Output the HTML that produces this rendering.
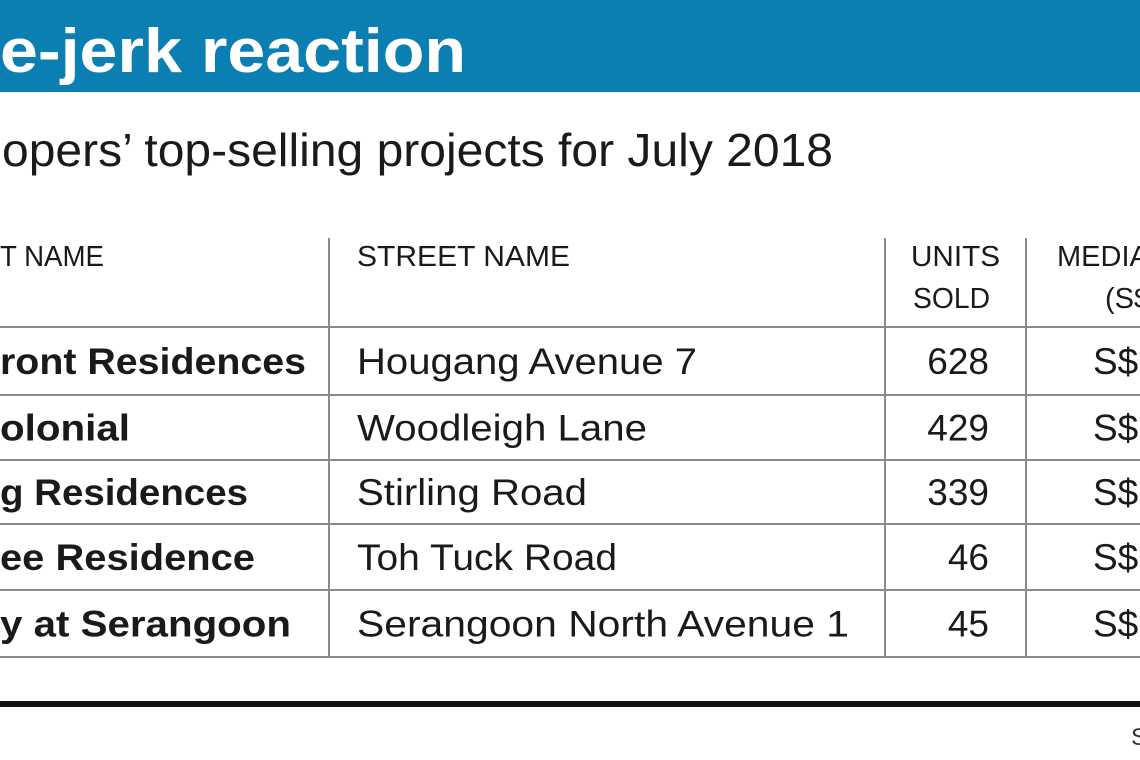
<!DOCTYPE html>
<html><head><meta charset="utf-8"><style>
html,body{margin:0;padding:0;background:#fff;}
svg{display:block;font-family:"Liberation Sans",sans-serif;}
</style></head><body>
<svg width="1140" height="760" viewBox="0 0 1140 760">
<rect x="0" y="0" width="1140" height="92" fill="#0b7fb2"/>
<text x="0" y="72" font-size="62" font-weight="bold" fill="#fff" textLength="466" lengthAdjust="spacingAndGlyphs">e-jerk reaction</text>
<text x="2" y="166" font-size="46" fill="#1a1a1a" textLength="831" lengthAdjust="spacingAndGlyphs">opers’ top-selling projects for July 2018</text>
<g id="grid" stroke="#8a8a8a" stroke-width="2"></g>
<g id="cells" fill="#1a1a1a">
<text x="0" y="266" font-size="29" textLength="104" lengthAdjust="spacingAndGlyphs">T NAME</text>
<text x="357" y="266" font-size="29" textLength="213" lengthAdjust="spacingAndGlyphs">STREET NAME</text>
<text x="911" y="266" font-size="29" textLength="89" lengthAdjust="spacingAndGlyphs">UNITS</text>
<text x="913" y="308" font-size="29" textLength="77" lengthAdjust="spacingAndGlyphs">SOLD</text>
<text x="1057" y="266" font-size="29">MEDIAN</text>
<text x="1105" y="308" font-size="29">(S$</text>
</g>
<rect x="0" y="701" width="1140" height="6" fill="#111"/>
<text x="1131" y="745" font-size="24" fill="#333">S</text>
</svg>
<script>
const projects=["ront Residences","olonial","g Residences","ee Residence","y at Serangoon"];
const projectWidths=[306,130,248,255,291];
const streets=["Hougang Avenue 7","Woodleigh Lane","Stirling Road","Toh Tuck Road","Serangoon North Avenue 1"];
const streetWidths=[340,290,230,260,492];
const units=[628,429,339,46,45];
const NS="http://www.w3.org/2000/svg";
const grid=document.getElementById('grid');
const cells=document.getElementById('cells');
function line(x1,y1,x2,y2,name){
  const l=document.createElementNS(NS,'line');
  l.setAttribute('x1',x1);l.setAttribute('y1',y1);l.setAttribute('x2',x2);l.setAttribute('y2',y2);
  
  
  grid.appendChild(l);
}
const rowTops=[327,395,460,524,590,657];
rowTops.forEach((y,i)=>line(0,y,1140,y,'row-rule'));
[329,885,1026].forEach(x=>line(x,238,x,657,'column-rule'));
function txt(x,y,s,opts){
  const t=document.createElementNS(NS,'text');
  t.setAttribute('x',x);t.setAttribute('y',y);
  t.setAttribute('font-size',opts.size||37);
  if(opts.bold)t.setAttribute('font-weight','bold');
  if(opts.anchor)t.setAttribute('text-anchor',opts.anchor);
  if(opts.len){t.setAttribute('textLength',opts.len);t.setAttribute('lengthAdjust','spacingAndGlyphs');}
  t.textContent=s;
  
  
  cells.appendChild(t);
}
projects.forEach((p,i)=>{
  const y=(rowTops[i]+rowTops[i+1])/2+13;
  txt(0,y,p,{bold:true,len:projectWidths[i],name:'project-name'});
  txt(357,y,streets[i],{len:streetWidths[i],name:'street-name'});
  txt(989,y,String(units[i]),{anchor:'end',name:'units-sold'});
  txt(1093,y,'S$',{name:'median-price'});
});
</script>
</body></html>
